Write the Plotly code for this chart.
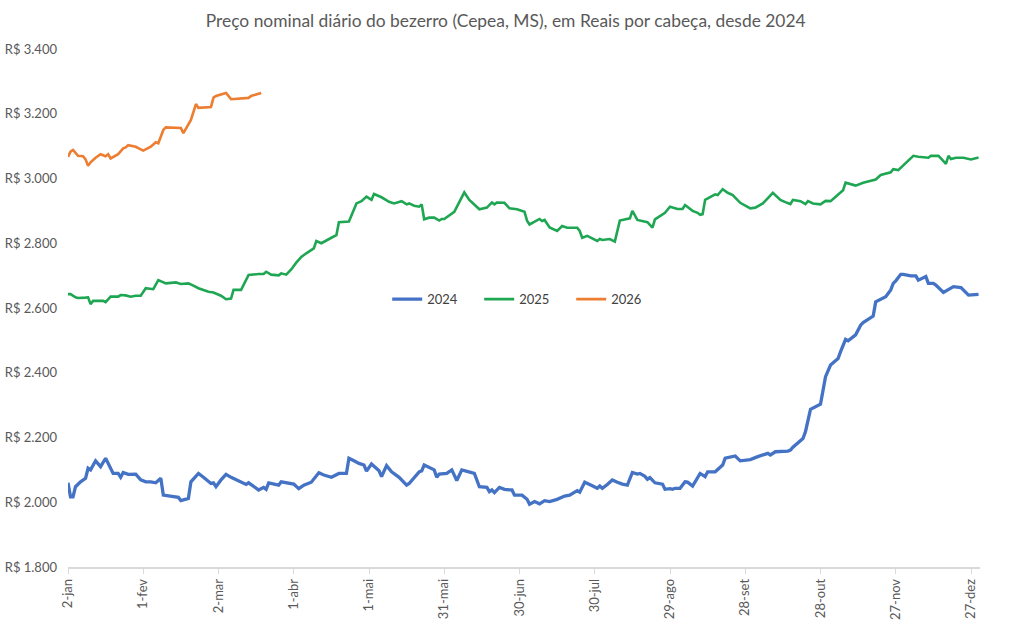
import pandas as pd
import plotly.graph_objects as go

# ---- data (day of year on a 2024 calendar, price in R$ per head) ----
doy_2024 = [2, 3, 4, 5, 7, 9, 10, 11, 13, 14, 15, 17, 19, 20, 22, 23, 24, 26, 29, 31,
            33, 35, 37, 39, 40, 43, 46, 47, 49, 50, 51, 53, 54, 56, 59, 60, 61, 63, 65, 67,
            69, 72, 73, 74, 76, 78, 80, 81, 82, 84, 86, 87, 89, 92, 94, 96, 99, 102, 104, 107,
            108, 110, 113, 114, 116, 118, 120, 121, 123, 126, 127, 129, 131, 134, 137, 138, 142, 143, 144, 148,
            149, 150, 153, 155, 157, 159, 164, 166, 169, 170, 171, 172, 174, 176, 178, 179, 180, 183, 185, 186,
            188, 190, 192, 194, 197, 199, 200, 202, 205, 206, 208, 211, 213, 214, 215, 217, 219, 221, 223, 225,
            227, 229, 230, 232, 233, 234, 236, 239, 240, 242, 243, 244, 246, 248, 249, 251, 254, 256, 257, 260,
            262, 263, 264, 268, 270, 274, 277, 279, 281, 282, 284, 289, 290, 291, 293, 295, 296, 297, 298, 302,
            303, 304, 306, 309, 310, 312, 313, 316, 318, 319, 323, 324, 328, 330, 331, 332, 334, 335, 338, 340,
            341, 344, 345, 347, 348, 351, 355, 358, 361, 363, 365]
val_2024 = [2060, 2017, 2017, 2048, 2063, 2074, 2105, 2100, 2128, 2120, 2110, 2136, 2105, 2089, 2089, 2077, 2092, 2086, 2087, 2069,
            2063, 2063, 2060, 2074, 2022, 2019, 2015, 2005, 2009, 2012, 2063, 2081, 2089, 2077, 2058, 2060, 2048, 2069, 2086, 2077,
            2069, 2058, 2055, 2060, 2048, 2038, 2046, 2040, 2060, 2056, 2053, 2063, 2060, 2056, 2042, 2053, 2062, 2091, 2084, 2077,
            2081, 2089, 2089, 2136, 2128, 2120, 2115, 2096, 2118, 2097, 2079, 2113, 2094, 2077, 2053, 2058, 2094, 2097, 2115, 2100,
            2077, 2087, 2089, 2100, 2067, 2100, 2089, 2048, 2046, 2033, 2038, 2030, 2046, 2040, 2038, 2038, 2022, 2022, 2009, 1994,
            2002, 1995, 2005, 2002, 2009, 2015, 2019, 2022, 2036, 2031, 2062, 2051, 2043, 2050, 2043, 2055, 2069, 2062, 2056, 2053,
            2092, 2087, 2089, 2080, 2071, 2076, 2060, 2056, 2040, 2042, 2040, 2043, 2043, 2063, 2062, 2050, 2089, 2079, 2094, 2094,
            2110, 2115, 2136, 2143, 2128, 2132, 2141, 2145, 2151, 2146, 2156, 2158, 2161, 2170, 2184, 2197, 2218, 2254, 2287, 2303,
            2349, 2388, 2424, 2444, 2465, 2503, 2499, 2517, 2547, 2555, 2575, 2619, 2635, 2656, 2676, 2684, 2704, 2704, 2699, 2699,
            2686, 2697, 2676, 2676, 2671, 2648, 2666, 2663, 2640, 2640, 2642]

doy_2025 = [2, 3, 5, 6, 9, 10, 11, 12, 16, 17, 19, 22, 23, 25, 27, 29, 31, 33, 36, 38,
            41, 45, 47, 50, 52, 54, 58, 60, 63, 65, 67, 68, 71, 74, 78, 80, 81, 83, 86, 87,
            89, 91, 93, 95, 97, 100, 101, 103, 107, 109, 110, 114, 117, 119, 121, 123, 124, 127, 130, 132,
            135, 137, 138, 140, 142, 143, 144, 146, 148, 150, 151, 152, 156, 158, 160, 162, 166, 169, 171, 172,
            173, 176, 178, 181, 184, 185, 186, 190, 191, 192, 194, 197, 199, 201, 205, 206, 207, 209, 211, 213,
            214, 215, 218, 220, 222, 225, 226, 227, 229, 233, 235, 236, 239, 240, 242, 245, 247, 248, 251, 253,
            254, 255, 256, 258, 260, 261, 263, 265, 267, 270, 271, 274, 276, 279, 283, 286, 288, 290, 291, 294,
            296, 297, 299, 302, 304, 306, 311, 312, 316, 319, 324, 326, 330, 331, 333, 336, 339, 341, 345, 346,
            349, 350, 352, 353, 354, 356, 359, 362, 365]
val_2025 = [2643, 2643, 2633, 2631, 2632, 2633, 2612, 2622, 2622, 2618, 2635, 2635, 2640, 2639, 2635, 2638, 2638, 2661, 2658, 2686,
            2676, 2679, 2674, 2676, 2669, 2661, 2650, 2648, 2638, 2627, 2629, 2656, 2656, 2702, 2705, 2705, 2712, 2703, 2701, 2707,
            2703, 2719, 2740, 2758, 2769, 2784, 2807, 2800, 2817, 2825, 2865, 2867, 2923, 2930, 2944, 2934, 2952, 2942, 2928, 2923,
            2930, 2920, 2923, 2916, 2913, 2920, 2874, 2879, 2879, 2870, 2875, 2875, 2897, 2928, 2957, 2934, 2905, 2910, 2926, 2920,
            2926, 2925, 2908, 2905, 2897, 2870, 2858, 2875, 2869, 2872, 2849, 2838, 2853, 2848, 2848, 2838, 2817, 2823, 2815, 2807,
            2813, 2810, 2813, 2805, 2870, 2875, 2877, 2900, 2872, 2865, 2848, 2874, 2889, 2894, 2913, 2906, 2906, 2918, 2900, 2894,
            2888, 2890, 2934, 2942, 2951, 2949, 2967, 2956, 2949, 2925, 2921, 2908, 2910, 2923, 2956, 2934, 2927, 2921, 2934, 2930,
            2921, 2930, 2923, 2920, 2931, 2930, 2964, 2987, 2978, 2987, 2997, 3011, 3019, 3029, 3026, 3047, 3070, 3067, 3064, 3070,
            3070, 3062, 3045, 3070, 3060, 3064, 3064, 3059, 3065]

doy_2026 = [2, 3, 4, 6, 8, 9, 10, 11, 13, 15, 17, 18, 19, 22, 24, 25, 26, 29, 31, 32,
            35, 37, 38, 40, 41, 47, 48, 51, 53, 54, 59, 60, 61, 65, 67, 74, 75, 79]
val_2026 = [3067, 3083, 3088, 3070, 3069, 3059, 3039, 3050, 3064, 3075, 3069, 3075, 3062, 3075, 3093, 3096, 3103, 3098, 3090, 3086,
            3098, 3112, 3109, 3150, 3158, 3156, 3140, 3181, 3230, 3218, 3221, 3250, 3255, 3264, 3245, 3249, 3255, 3264]

tick_dates = ["2024-01-02", "2024-02-01", "2024-03-02", "2024-04-01", "2024-05-01", "2024-05-31",
              "2024-06-30", "2024-07-30", "2024-08-29", "2024-09-28", "2024-10-28", "2024-11-27", "2024-12-27"]
tick_labels = ["2-jan", "1-fev", "2-mar", "1-abr", "1-mai", "31-mai", "30-jun",
               "30-jul", "29-ago", "28-set", "28-out", "27-nov", "27-dez"]

series = [
    ("2024", doy_2024, val_2024, "#4472C4", 3.3),
    ("2025", doy_2025, val_2025, "#1FA653", 2.6),
    ("2026", doy_2026, val_2026, "#ED7D31", 2.6),
]

base = pd.Timestamp("2024-01-01")

fig = go.Figure()
for name, doy, vals, color, width in series:
    dates = [base + pd.Timedelta(days=d - 1) for d in doy]
    fig.add_trace(go.Scatter(x=dates, y=vals, mode="lines", name=name,
                             line=dict(color=color, width=width)))

FONT = "Lato"
GRAY = "#595959"

fig.update_layout(
    width=1032, height=629,
    margin=dict(l=68, r=52, t=49, b=62),
    paper_bgcolor="white", plot_bgcolor="white",
    separators=",.",
    font=dict(family=FONT, color=GRAY, size=13),
    title=dict(text="Preço nominal diário do bezerro (Cepea, MS), em Reais por cabeça, desde 2024",
               x=0.49, xanchor="center", y=0.967, yanchor="middle",
               font=dict(family=FONT, size=17.4, color=GRAY)),
    showlegend=True,
    legend=dict(orientation="h", x=0.350, xanchor="left", y=0.517, yanchor="middle",
                font=dict(family=FONT, size=13, color="#404040"),
                bgcolor="rgba(0,0,0,0)", entrywidth=47, itemwidth=30),
    xaxis=dict(type="date", range=["2024-01-02", "2024-12-30 14:00"],
               tickvals=tick_dates, ticktext=tick_labels, tickangle=-90,
               showgrid=False, zeroline=False, showline=True, linecolor="#D9D9D9", linewidth=1.5,
               ticks="outside", ticklen=5, tickcolor="#D9D9D9", automargin=False,
               tickfont=dict(family=FONT, size=13, color=GRAY)),
    yaxis=dict(range=[1800, 3400], dtick=200, tick0=1800, tickformat=",d", tickprefix="R$ ",
               showgrid=False, zeroline=False, showline=False, ticks="",
               ticklabelstandoff=10, automargin=False,
               tickfont=dict(family=FONT, size=13, color=GRAY)),
)

fig.write_html("out.html")
